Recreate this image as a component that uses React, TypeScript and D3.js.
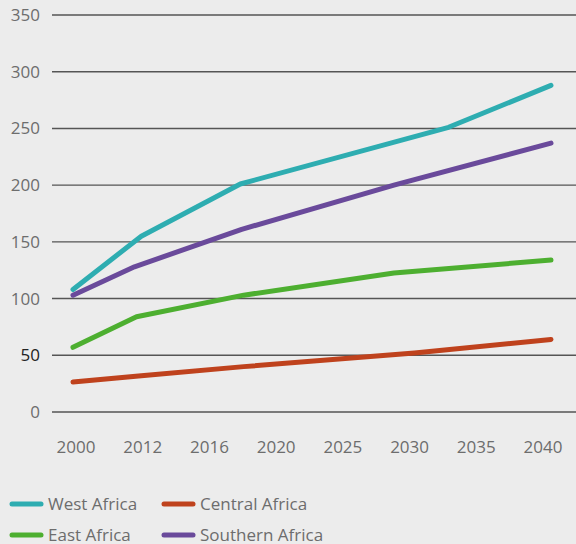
import React from "react";
import * as d3 from "d3";

const xLabels = ["2000", "2012", "2016", "2020", "2025", "2030", "2035", "2040"];
const yTicks = [0, 50, 100, 150, 200, 250, 300, 350];

// x given in category-index units (0 = 2000 ... 7 = 2040)
const westAfrica = [
  { x: 0, v: 108 }, { x: 1, v: 155 }, { x: 2.45, v: 201 }, { x: 5.5, v: 251 }, { x: 7, v: 288 },
];
const centralAfrica = [
  { x: 0, v: 26.5 }, { x: 1, v: 32 }, { x: 2.5, v: 40 }, { x: 5, v: 52 }, { x: 7, v: 64 },
];
const eastAfrica = [
  { x: 0, v: 57 }, { x: 0.93, v: 84 }, { x: 2.5, v: 103 }, { x: 4.7, v: 122.5 }, { x: 7, v: 134 },
];
const southernAfrica = [
  { x: 0, v: 103 }, { x: 0.9, v: 128 }, { x: 2.47, v: 161 }, { x: 4.7, v: 200 }, { x: 7, v: 237 },
];

const seriesNames = ["West Africa", "Central Africa", "East Africa", "Southern Africa"];
const seriesColors = ["#2eadb1", "#bf421d", "#4daf30", "#6a4a9b"];
const seriesData = [westAfrica, centralAfrica, eastAfrica, southernAfrica];

const W = 576;
const H = 544;
const FONT = "'Open Sans', 'Noto Sans', sans-serif";

export default function App() {
  const y = d3.scaleLinear().domain([0, 350]).range([412, 15]);
  const xLine = d3.scaleLinear().domain([0, 7]).range([73, 551]);
  const xLab = d3.scalePoint<string>().domain(xLabels).range([76, 543]);
  const line = d3
    .line<{ x: number; v: number }>()
    .x((d) => xLine(d.x))
    .y((d) => y(d.v));

  const legendPos = [
    { x: 10, y: 504 },
    { x: 162, y: 504 },
    { x: 10, y: 535 },
    { x: 162, y: 535 },
  ];

  return (
    <svg
      width={W}
      height={H}
      style={{ position: "absolute", left: 0, top: 0, display: "block" }}
    >
      <rect x={0} y={0} width={W} height={H} fill="#ececec" />
      {yTicks.map((t) => (
        <g key={t}>
          <line x1={52} x2={W} y1={y(t)} y2={y(t)} stroke="#555" strokeWidth={1.4} />
          <text
            x={40}
            y={y(t)}
            dy="0.35em"
            textAnchor="end"
            fontFamily={FONT}
            fontSize={17}
            fill={t === 50 ? "#222" : "#6d6d6d"}
          >
            {t}
          </text>
        </g>
      ))}
      {xLabels.map((l) => (
        <text
          key={l}
          x={xLab(l)}
          y={447}
          dy="0.35em"
          textAnchor="middle"
          fontFamily={FONT}
          fontSize={17}
          fill="#6d6d6d"
        >
          {l}
        </text>
      ))}
      {seriesData.map((s, i) => (
        <path
          key={seriesNames[i]}
          d={line(s) || ""}
          fill="none"
          stroke={seriesColors[i]}
          strokeWidth={5}
          strokeLinecap="round"
          strokeLinejoin="round"
        />
      ))}
      {seriesNames.map((n, i) => (
        <g key={n}>
          <line
            x1={legendPos[i].x + 2}
            x2={legendPos[i].x + 31}
            y1={legendPos[i].y}
            y2={legendPos[i].y}
            stroke={seriesColors[i]}
            strokeWidth={5}
            strokeLinecap="round"
          />
          <text
            x={legendPos[i].x + 38}
            y={legendPos[i].y}
            dy="0.35em"
            fontFamily={FONT}
            fontSize={17}
            fill="#6d6d6d"
          >
            {n}
          </text>
        </g>
      ))}
    </svg>
  );
}
